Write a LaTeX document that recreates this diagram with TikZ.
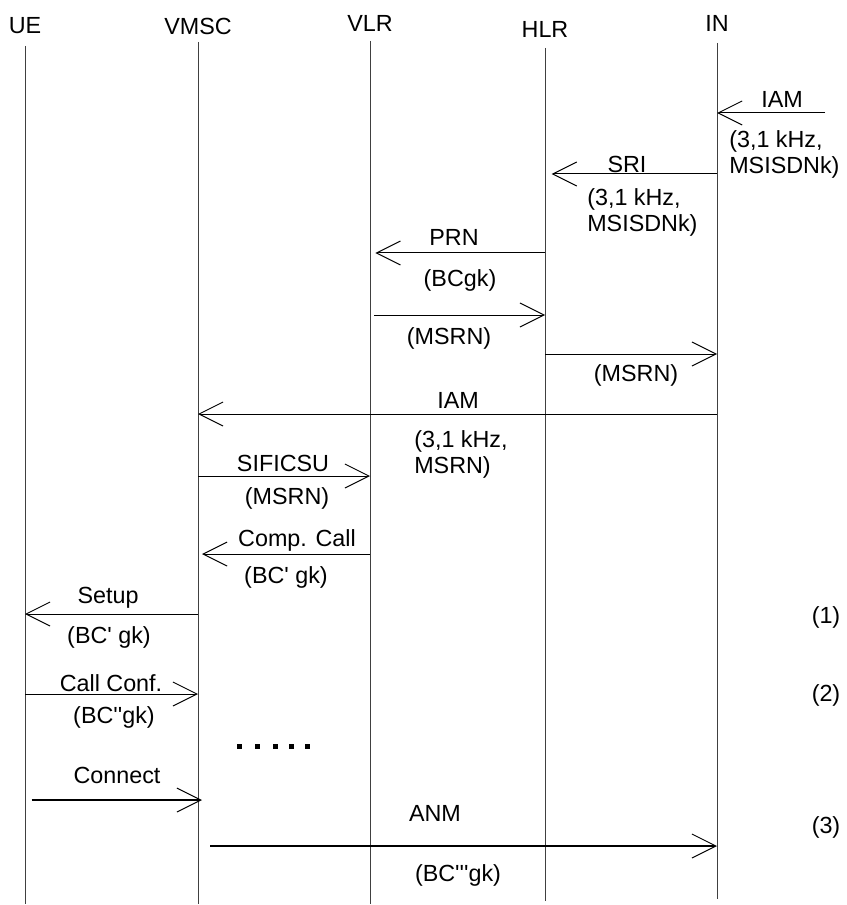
\documentclass[tikz,border=0pt]{standalone}
\usepackage{fontspec}
\setmainfont{Liberation Sans}
\usetikzlibrary{arrows.meta}
\newcommand{\qs}{\textquotesingle}

\begin{document}
\begin{tikzpicture}[x=0.75pt, y=-0.75pt,
    every node/.style={font=\fontsize{17.5}{19.5}\selectfont, inner sep=0pt},
    life/.style={draw=black!75, line width=0.75pt},
    msg/.style={line width=0.75pt, -{Straight Barb[length=18pt, width=18pt, line width=0.75pt]}},
    boldmsg/.style={msg, line width=1.5pt},
    note/.style={align=left, anchor=west}]
    \useasboundingbox (0,0) rectangle (846,905);
    \node (ue)   at (25,26)  {UE};
    \node (vmsc) at (198,26) {VMSC};
    \node (vlr)  at (370,23) {VLR};
    \node (hlr)  at (545,29) {HLR};
    \node (inet) at (717,23) {IN};
    \foreach \n/\t/\b in {ue/46/904, vmsc/42/904, vlr/41/904, hlr/48/901, inet/43/899}
        \draw[life] (\n |- 0,\t) -- (\n |- 0,\b);
    \coordinate (iamsrc) at (825,113);
    \draw[msg] (iamsrc) -- (inet |- iamsrc);
    \node (iam1) at (782,99) {IAM};
    \node[note] (iam1p) at (729,154) {(3,1 kHz,\\MSISDNk)};
    \draw[msg, shorten >=5pt] (inet |- 0,174) -- (hlr |- 0,174);
    \node (sri) at (627,164) {SRI};
    \node[note] (srip) at (587,212) {(3,1 kHz,\\MSISDNk)};
    \draw[msg, shorten >=4pt] (hlr |- 0,253) -- (vlr |- 0,253);
    \node (prn) at (454,237) {PRN};
    \node (prnp) at (460,280) {(BCgk)};
    \draw[msg, shorten <=3pt] (vlr |- 0,315) -- (hlr |- 0,315);
    \node (msrn1) at (449,338) {(MSRN)};
    \draw[msg] (hlr |- 0,354) -- (inet |- 0,354);
    \node (msrn2) at (636,375) {(MSRN)};
    \draw[msg] (inet |- 0,414) -- (vmsc |- 0,414);
    \node (iam2) at (458,400) {IAM};
    \node[note] (iam2p) at (414,454) {(3,1 kHz,\\MSRN)};
    \draw[msg] (vmsc |- 0,476) -- (vlr |- 0,476);
    \node (sific) at (283,463) {SIFICSU};
    \node (sificp) at (287,498) {(MSRN)};
    \draw[msg, shorten >=3pt] (vlr |- 0,554) -- (vmsc |- 0,554);
    \node (comp) at (297,540) {Comp. Call};
    \node (compp) at (286,577) {(BC\qs{} gk)};
    \draw[msg] (vmsc |- 0,614) -- (ue |- 0,614);
    \node (setup) at (108,598) {Setup};
    \node (setupp) at (109,637) {(BC\qs{} gk)};
    \draw[msg] (ue |- 0,694) -- (vmsc |- 0,694);
    \node (conf) at (111,683) {Call Conf.};
    \node (confp) at (114,717) {(BC\qs\qs{}gk)};
    \foreach \x in {239,257,275,291,307}
        \fill (\x-2.5,743.5) rectangle ++(5,5);
    \draw[boldmsg, shorten <=5pt, shorten >=-3pt] (ue |- 0,800) -- (vmsc |- 0,800);
    \node (conn) at (117,775) {Connect};
    \draw[boldmsg, shorten <=9pt] (vmsc |- 0,846) -- (inet |- 0,846);
    \node (anm) at (435,813) {ANM};
    \node (anmp) at (458,875) {(BC\qs\qs\qs{}gk)};
    \node (s1) at (826,617) {(1)};
    \node (s2) at (826,695) {(2)};
    \node (s3) at (826,827) {(3)};
\end{tikzpicture}
\end{document}
